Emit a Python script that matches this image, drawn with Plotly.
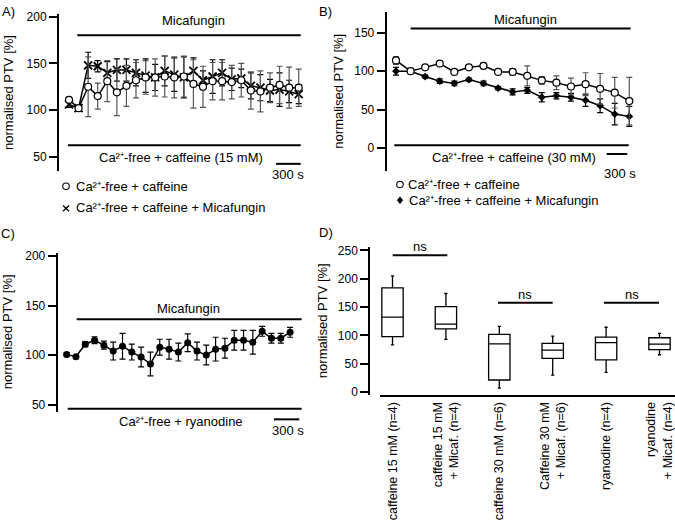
import plotly.graph_objects as go

W, H = 675, 530
FONT = "Liberation Sans, Arial, Helvetica, sans-serif"

# ---------------- Panel A: Ca2+-free + caffeine (15 mM) ----------------
A_time_s = [0, 120, 240, 360, 480, 600, 720, 840, 960, 1080, 1200, 1320, 1440,
            1560, 1680, 1800, 1920, 2040, 2160, 2280, 2400, 2520, 2640, 2760, 2880]
A_caffeine = [111, 102, 125, 115, 131, 119, 126, 132, 135, 135, 136, 135, 136,
              128, 125, 131, 131, 130, 132, 121, 120, 124, 127, 124, 124]
A_caffeine_err = [3, 2, 32, 14, 22, 25, 22, 19, 18, 20, 22, 22, 22,
                  26, 22, 20, 20, 18, 18, 20, 22, 16, 20, 22, 20]
A_mica = [106, 102, 148, 147, 140, 143, 143, 140, 137, 135, 142, 138, 135,
          142, 132, 136, 140, 133, 134, 126, 124, 121, 122, 120, 117]
A_mica_err = [3, 2, 14, 6, 12, 12, 12, 14, 18, 14, 16, 18, 22,
              14, 10, 18, 14, 12, 10, 14, 14, 12, 18, 12, 10]

# ---------------- Panel B: Ca2+-free + caffeine (30 mM) ----------------
B_time_s = [0, 210, 420, 630, 840, 1050, 1260, 1470, 1680, 1890, 2100, 2310,
            2520, 2730, 2940, 3150, 3360]
B_caffeine = [114, 100, 105, 110, 99, 105, 107, 99, 99, 94, 88, 85, 80, 83, 77, 72, 61]
B_caffeine_err = [5, 2, 2, 2, 2, 2, 4, 2, 4, 13, 5, 9, 11, 15, 20, 20, 31]
B_mica = [100, 100, 93, 87, 84, 89, 84, 78, 73, 75, 66, 68, 66, 62, 55, 44, 41]
B_mica_err = [5, 2, 2, 3, 3, 2, 3, 2, 4, 4, 6, 4, 5, 8, 9, 14, 13]

# ---------------- Panel C: Ca2+-free + ryanodine ----------------
C_time_s = [0, 120, 240, 360, 480, 600, 720, 840, 960, 1080, 1200, 1320, 1440,
            1560, 1680, 1800, 1920, 2040, 2160, 2280, 2400, 2520, 2640, 2760, 2880]
C_ryanodine = [100.7, 98.3, 111, 115, 110, 104, 109, 103, 98, 91, 108, 106, 103,
               112.5, 104, 100, 106, 107, 115, 115, 113, 124, 117, 117, 123]
C_ryanodine_err = [1.5, 1.5, 2.5, 3.5, 4, 9, 13, 8, 10, 12, 8, 10, 9,
                   9, 9, 10, 12, 10, 10, 10, 12, 5, 5, 5, 5]

# ---------------- Panel D: box plots ----------------
D_categories = ["caffeine 15 mM (n=4)", "caffeine 15 mM<br>+ Micaf. (n=4)",
                "caffeine 30 mM (n=6)", "Caffeine 30 mM<br>+ Micaf. (n=6)",
                "ryanodine (n=4)", "ryanodine<br>+ Micaf. (n=4)"]
D_min = [83.5, 93, 7, 30, 35, 66]
D_q1 = [98, 111.5, 21.5, 59.5, 57, 75]
D_median = [132.5, 120, 85, 74, 87.5, 84.6]
D_q3 = [184, 151, 102, 86, 97, 96]
D_max = [205, 174, 116, 99, 114.5, 103.5]

Y_TICKS_A = [50, 100, 150, 200]
Y_TICKS_B = [0, 50, 100, 150]
Y_TICKS_C = [50, 100, 150, 200]
Y_TICKS_D = [0, 50, 100, 150, 200, 250]


def px(x):
    return x / W


def py(y):
    return 1 - y / H


fig = go.Figure()

LINE = dict(color="black", width=1.5)

# A
fig.add_trace(go.Scatter(
    x=A_time_s, y=A_mica, mode="lines+markers", xaxis="x", yaxis="y",
    line=LINE,
    marker=dict(symbol="x-thin-open", size=8, color="black",
                line=dict(color="black", width=1.8)),
    error_y=dict(type="data", array=A_mica_err, color="black", thickness=1.2, width=3),
    showlegend=False))
fig.add_trace(go.Scatter(
    x=A_time_s, y=A_caffeine, mode="lines+markers", xaxis="x", yaxis="y",
    line=LINE,
    marker=dict(symbol="circle", size=7, color="white",
                line=dict(color="black", width=1.2)),
    error_y=dict(type="data", array=A_caffeine_err, color="#555555", thickness=1.2, width=3),
    showlegend=False))

# B
fig.add_trace(go.Scatter(
    x=B_time_s, y=B_mica, mode="lines+markers", xaxis="x2", yaxis="y2",
    line=LINE,
    marker=dict(symbol="diamond", size=6, color="black"),
    error_y=dict(type="data", array=B_mica_err, color="black", thickness=1.2, width=3),
    showlegend=False))
fig.add_trace(go.Scatter(
    x=B_time_s, y=B_caffeine, mode="lines+markers", xaxis="x2", yaxis="y2",
    line=LINE,
    marker=dict(symbol="circle", size=7, color="white",
                line=dict(color="black", width=1.2)),
    error_y=dict(type="data", array=B_caffeine_err, color="#555555", thickness=1.2, width=3),
    showlegend=False))

# C
fig.add_trace(go.Scatter(
    x=C_time_s, y=C_ryanodine, mode="lines+markers", xaxis="x3", yaxis="y3",
    line=LINE,
    marker=dict(symbol="circle", size=7, color="black"),
    error_y=dict(type="data", array=C_ryanodine_err, color="black", thickness=1.2, width=3),
    showlegend=False))

# D
fig.add_trace(go.Box(
    x=D_categories, q1=D_q1, median=D_median, q3=D_q3,
    lowerfence=D_min, upperfence=D_max, xaxis="x4", yaxis="y4",
    fillcolor="white", line=dict(color="black", width=1.3),
    width=0.4, whiskerwidth=0.15, boxpoints=False, showlegend=False))

yax = dict(showline=True, linewidth=2, linecolor="black", ticks="outside",
           ticklen=8, tickwidth=2, tickcolor="black", showgrid=False,
           zeroline=False, tickfont=dict(size=12, color="black", family=FONT))

fig.update_layout(
    width=W, height=H, autosize=False,
    margin=dict(l=0, r=0, t=0, b=0),
    paper_bgcolor="white", plot_bgcolor="white",
    font=dict(family=FONT, color="black", size=13),
    xaxis=dict(domain=[px(59), px(310)], range=[-125.4, 3021.6], anchor="y", visible=False),
    yaxis=dict(domain=[py(170), py(10)], range=[34.2, 203.2], anchor="x",
               tickvals=Y_TICKS_A, **yax),
    xaxis2=dict(domain=[px(386.7), px(640)], range=[-134, 3514], anchor="y2", visible=False),
    yaxis2=dict(domain=[py(170), py(8)], range=[-30.8, 177.4], anchor="x2",
                tickvals=Y_TICKS_B, **yax),
    xaxis3=dict(domain=[px(57.7), px(310)], range=[-115.3, 3136.6], anchor="y3", visible=False),
    yaxis3=dict(domain=[py(414), py(253)], range=[42.7, 203], anchor="x3",
                tickvals=Y_TICKS_C, **yax),
    xaxis4=dict(domain=[px(380), 1.0], range=[-0.234, 5.29], anchor="y4", type="category",
                showline=True, linewidth=2, linecolor="black", ticks="", showgrid=False,
                tickangle=-90, tickfont=dict(size=12.5, color="black", family=FONT)),
    yaxis4=dict(domain=[py(397), py(246.7)], range=[-5, 256], anchor="free",
                position=px(369.3), tickvals=Y_TICKS_D, **yax),
)

shapes = []


def hline(x0, x1, y, width=2):
    shapes.append(dict(type="line", xref="paper", yref="paper",
                       x0=px(x0), x1=px(x1), y0=py(y), y1=py(y),
                       line=dict(color="black", width=width)))


# Panel A bars
hline(77.3, 300.7, 31.7)
hline(68, 300.7, 143.3)
hline(276, 300.7, 162.3)
# Panel B bars
hline(410.7, 630.7, 25)
hline(394.3, 628.7, 143.3)
hline(606.7, 627.3, 152.3)
# Panel C bars
hline(76.7, 301.7, 320)
hline(67.7, 301.7, 411)
hline(274, 299.3, 421.7)
# Panel D ns bars
hline(392.7, 447.3, 255)
hline(498, 552.7, 303.3)
hline(604, 659, 303.3)


# legend markers
def circle(cx, cy, r, fill):
    shapes.append(dict(type="circle", xref="paper", yref="paper",
                       x0=px(cx - r), x1=px(cx + r), y0=py(cy + r), y1=py(cy - r),
                       fillcolor=fill, line=dict(color="black", width=1.1)))


circle(66, 185, 3.3, "white")
circle(400, 183.3, 3.3, "white")
# x marker for A legend
s = 3
for (dx0, dy0, dx1, dy1) in [(-s, -s, s, s), (-s, s, s, -s)]:
    shapes.append(dict(type="line", xref="paper", yref="paper",
                       x0=px(66 + dx0), y0=py(207.5 + dy0), x1=px(66 + dx1), y1=py(207.5 + dy1),
                       line=dict(color="black", width=1.3)))
# diamond for B legend
cx, cy, d = 400, 199.3, 3.5
shapes.append(dict(type="path", xref="paper", yref="paper",
                   path=f"M {px(cx)} {py(cy - d)} L {px(cx + d * 0.8)} {py(cy)} L {px(cx)} {py(cy + d)} L {px(cx - d * 0.8)} {py(cy)} Z",
                   fillcolor="black", line=dict(color="black", width=0.5)))

fig.update_layout(shapes=shapes)


def text(x, y, s, anchor="center", size=13, angle=0):
    fig.add_annotation(x=px(x), y=py(y), xref="paper", yref="paper", text=s,
                       showarrow=False, xanchor=anchor, yanchor="middle",
                       textangle=angle, borderpad=0,
                       font=dict(size=size, color="black", family=FONT))


CA = "Ca\u00b2\u207a-free"

# panel letters
text(1, 8, "A)", anchor="left")
text(318, 8, "B)", anchor="left")
text(0, 233, "C)", anchor="left")
text(318, 232, "D)", anchor="left")

# y titles
ylab = "normalised PTV [%]"
text(8.3, 90, ylab, angle=-90)
text(339, 89, ylab, angle=-90)
text(8.3, 333, ylab, angle=-90)
text(322, 322, ylab, angle=-90)

# Panel A texts
text(193.3, 16.7, "Micafungin")
text(181, 155.7, CA + " + caffeine (15 mM)")
text(288, 172.7, "300 s")
text(75, 185, CA + " + caffeine", anchor="left")
text(75, 207, CA + " + caffeine + Micafungin", anchor="left")

# Panel B texts
text(525, 15.3, "Micafungin")
text(513.8, 155.8, CA + " + caffeine (30 mM)")
text(620, 172, "300 s")
text(406.7, 183.3, CA + " + caffeine", anchor="left")
text(408, 199.3, CA + " + caffeine + Micafungin", anchor="left")

# Panel C texts
text(188.3, 309, "Micafungin")
text(181.3, 423.5, CA + " + ryanodine")
text(287.7, 433, "300 s")

# Panel D texts
text(420, 246, "ns")
text(525.3, 295, "ns")
text(631.5, 295, "ns")

fig.write_html(
    "out.html",
    config={"displayModeBar": False},
    post_script="document.body.style.margin='0px';document.body.style.overflow='hidden';",
)
